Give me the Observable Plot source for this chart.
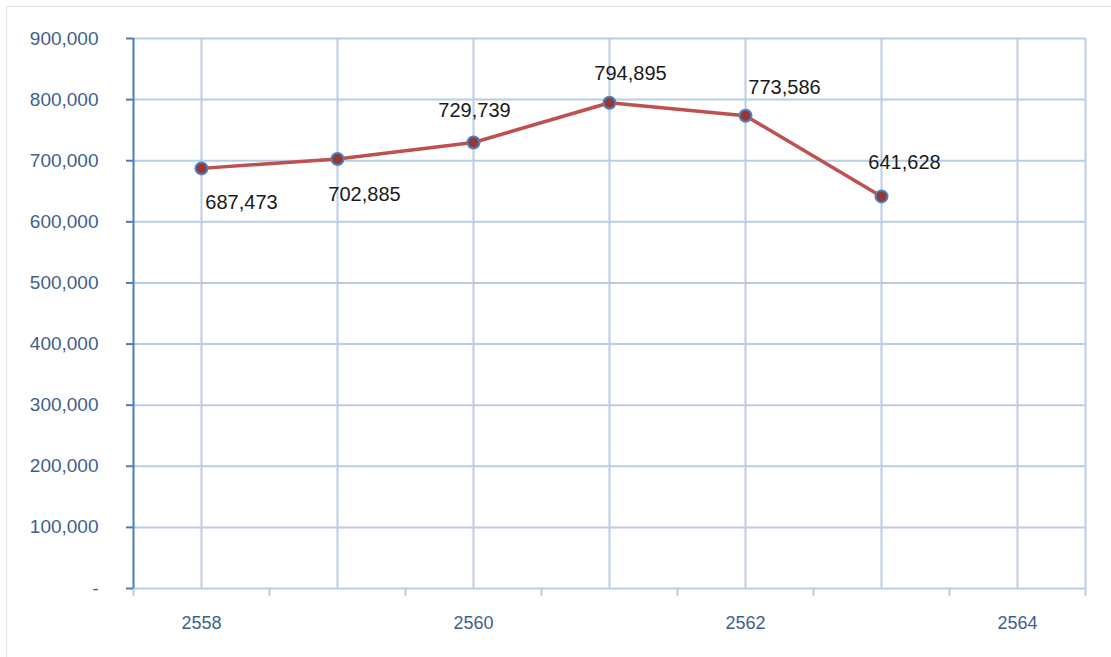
<!DOCTYPE html>
<html>
<head>
<meta charset="utf-8">
<script src="https://cdn.jsdelivr.net/npm/d3@7"></script>
<script src="https://cdn.jsdelivr.net/npm/@observablehq/plot@0.6"></script>
<style>
  html, body { margin: 0; padding: 0; background: #fff; }
  #wrap { position: relative; width: 1111px; height: 657px; overflow: hidden; }
  #frame { position: absolute; left: 6px; top: 6px; width: 1200px; height: 800px; border: 1px solid #dfe6ee; pointer-events: none; }
  #chart { position: absolute; left: 0; top: 0; }
</style>
</head>
<body>
<div id="wrap"><div id="chart"></div><div id="frame"></div></div>
<script>
const years = [2558, 2559, 2560, 2561, 2562, 2563];
const values = [687473, 702885, 729739, 794895, 773586, 641628];
const yTicks = [0, 100000, 200000, 300000, 400000, 500000, 600000, 700000, 800000, 900000];
const xLabelTicks = [2558, 2560, 2562, 2564];
const xMinorTicks = [2557.5, 2558.5, 2559.5, 2560.5, 2561.5, 2562.5, 2563.5, 2564.5];
const xGrid = [2558, 2559, 2560, 2561, 2562, 2563, 2564, 2564.5];

const data = years.map((year, i) => ({year, value: values[i]}));
const fmt = d3.format(",");
const grid = "#b9cde5";
const axisBlue = "#4a7ebb";
const textBlue = "#3f5f8d";
const font = "'Liberation Sans', Arial, sans-serif";

// label placement (layout, not data)
const offsets = [[40, 34], [27, 36], [1, -32], [21, -29], [39, -28], [23, -34]];

const labels = data.map((d, i) => Plot.text([d], {
  x: "year", y: "value", text: d => fmt(d.value),
  dx: offsets[i][0], dy: offsets[i][1],
  fontSize: 20, fill: "#1a1a1a"
}));

const chart = Plot.plot({
  width: 1111,
  height: 657,
  marginLeft: 133,
  marginRight: 26,
  marginTop: 38,
  marginBottom: 69,
  style: {fontFamily: font, background: "transparent"},
  x: {domain: [2557.5, 2564.5], axis: null, label: null},
  y: {domain: [0, 900000], axis: null, label: null},
  marks: [
    Plot.ruleY(yTicks, {stroke: grid, strokeWidth: 2}),
    Plot.ruleX(xGrid, {stroke: grid, strokeWidth: 2}),
    Plot.axisX({ticks: xMinorTicks, tickSize: 8, tickFormat: () => "", stroke: grid, strokeWidth: 2, label: null}),
    Plot.axisX({ticks: xLabelTicks, tickSize: 0, tickPadding: 28, fontSize: 18, fill: textBlue, tickFormat: d => String(d), label: null}),
    Plot.axisY({ticks: yTicks, tickSize: 7, tickPadding: 28, fontSize: 19, fill: textBlue, stroke: axisBlue, strokeWidth: 2,
      tickFormat: d => d === 0 ? "-" : fmt(d), label: null}),
    Plot.ruleX([2557.5], {stroke: axisBlue, strokeWidth: 2}),
    Plot.line(data, {x: "year", y: "value", stroke: "#c0504d", strokeWidth: 3.5}),
    Plot.dot(data, {x: "year", y: "value", r: 6, fill: "#953735", stroke: "#4f81bd", strokeWidth: 2}),
    ...labels
  ]
});
document.getElementById("chart").appendChild(chart);
</script>
</body>
</html>
